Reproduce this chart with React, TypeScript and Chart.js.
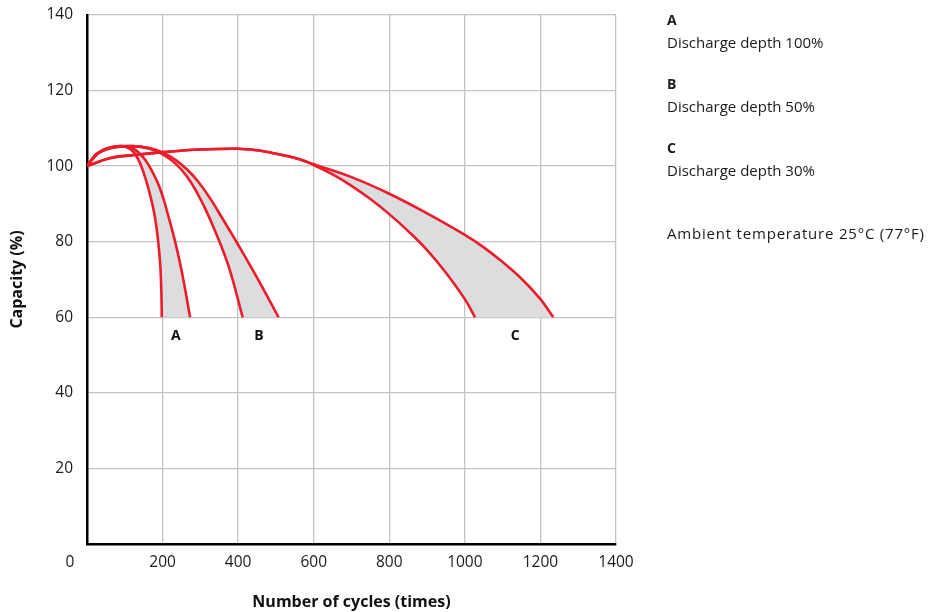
import React, { useEffect, useRef } from 'react';
import { Chart, registerables } from 'chart.js';

Chart.register(...registerables);

// ---- Data (cycles, capacity %) ----
const aLeftCycles = [0, 25, 55, 90, 115, 135, 153, 170, 180, 188, 194, 197, 198];
const aLeftCapacity = [100, 103.2, 104.7, 105.3, 104.5, 101.9, 97.3, 91.2, 86.4, 80.5, 73.6, 66, 60];

const aRightCycles = [0, 25, 55, 95, 125, 153, 184, 201, 216, 232, 250, 273];
const aRightCapacity = [100, 103.2, 104.8, 105.3, 104.5, 101.8, 96.3, 91.8, 86.5, 80.5, 72.5, 60];

const bLeftCycles = [0, 30, 70, 120, 165, 200, 235, 265, 290, 315, 345, 377, 412];
const bLeftCapacity = [100, 103.4, 104.9, 105.3, 104.6, 103.2, 100.6, 97.2, 93.2, 88.3, 81.4, 72.8, 60];

const bRightCycles = [0, 30, 70, 120, 165, 200, 235, 265, 295, 325, 360, 400, 450, 507];
const bRightCapacity = [100, 103.4, 105, 105.3, 104.8, 103.6, 101.6, 99.1, 95.8, 91.6, 85.9, 79.2, 70.5, 60];

const cLeftCycles = [0, 60, 130, 200, 300, 400, 450, 490, 560, 600, 650, 700, 750, 800, 850, 900, 950, 1000, 1027];
const cLeftCapacity = [100, 102.1, 103, 103.7, 104.4, 104.6, 104.2, 103.5, 101.9, 100.3, 97.8, 94.8, 91.3, 87.3, 82.8, 77.8, 71.8, 64.8, 60];

const cRightCycles = [0, 60, 130, 200, 300, 400, 450, 490, 560, 600, 700, 800, 900, 1000, 1050, 1100, 1150, 1200, 1234];
const cRightCapacity = [100, 102.1, 103, 103.7, 104.4, 104.6, 104.2, 103.5, 101.9, 100.5, 97.1, 92.7, 87.5, 81.8, 78.5, 74.6, 70.2, 64.8, 60];

const bandNames = ['A', 'B', 'C'];
const bandDescriptions = ['Discharge depth 100%', 'Discharge depth 50%', 'Discharge depth 30%'];
const bandLabelCycles = [235, 455, 1133];
const bandLabelCapacity = 55;
const ambientNote = 'Ambient temperature 25°C (77°F)';

const xTitle = 'Number of cycles (times)';
const yTitle = 'Capacity (%)';

const RED = '#ec1c2a';
const BAND = '#dcdddf';
const FONT = "'Open Sans', 'Noto Sans', sans-serif";

type P = { x: number; y: number };
const pts = (xs: number[], ys: number[]): P[] => xs.map((x, i) => ({ x, y: ys[i] }));
const band = (lx: number[], ly: number[], rx: number[], ry: number[]): P[] => {
  const left = pts(lx, ly);
  const right = pts(rx, ry).reverse();
  return [...left, { ...left[left.length - 1] }, { ...right[0] }, ...right];
};

const extraText = {
  id: 'extraText',
  afterDraw(chart: any) {
    const { ctx, scales, chartArea } = chart;
    const x = scales.x;
    const y = scales.y;
    ctx.save();
    ctx.fillStyle = '#111';
    ctx.font = `bold 14px ${FONT}`;
    ctx.textAlign = 'center';
    ctx.textBaseline = 'middle';
    bandNames.forEach((n, i) => {
      ctx.fillText(n, x.getPixelForValue(bandLabelCycles[i]), y.getPixelForValue(bandLabelCapacity));
    });
    ctx.font = `15.5px ${FONT}`;
    ctx.fillStyle = '#1a1a1a';
    ctx.fillText('0', chartArea.left - 17, chartArea.bottom + 19);
    ctx.restore();
  },
};

export default function App() {
  const ref = useRef<HTMLCanvasElement | null>(null);

  useEffect(() => {
    if (!ref.current) return;
    const lineDs = (data: P[]) => ({
      data,
      borderColor: RED,
      borderWidth: 2.6,
      fill: false,
      tension: 0.4,
      pointRadius: 0,
      order: 1,
    });
    const bandDs = (data: P[]) => ({
      data,
      borderColor: 'rgba(0,0,0,0)',
      borderWidth: 0,
      backgroundColor: BAND,
      fill: 'shape',
      tension: 0.4,
      pointRadius: 0,
      order: 2,
    });
    const chart = new Chart(ref.current, {
      type: 'line',
      data: {
        datasets: [
          bandDs(band(aLeftCycles, aLeftCapacity, aRightCycles, aRightCapacity)),
          bandDs(band(bLeftCycles, bLeftCapacity, bRightCycles, bRightCapacity)),
          bandDs(band(cLeftCycles, cLeftCapacity, cRightCycles, cRightCapacity)),
          lineDs(pts(aLeftCycles, aLeftCapacity)),
          lineDs(pts(aRightCycles, aRightCapacity)),
          lineDs(pts(bLeftCycles, bLeftCapacity)),
          lineDs(pts(bRightCycles, bRightCapacity)),
          lineDs(pts(cLeftCycles, cLeftCapacity)),
          lineDs(pts(cRightCycles, cRightCapacity)),
        ] as any,
      },
      options: {
        animation: false,
        responsive: false,
        events: [],
        layout: { padding: { top: 15, right: 314, bottom: 0, left: 0 } },
        plugins: { legend: { display: false }, tooltip: { enabled: false } },
        scales: {
          x: {
            type: 'linear',
            min: 0,
            max: 1400,
            ticks: {
              stepSize: 200,
              padding: 9.7,
              color: '#1a1a1a',
              font: { family: FONT, size: 15.5 },
              maxRotation: 0,
              callback: (v: any) => (v === 0 ? '' : String(v)),
            },
            grid: { color: '#c4c4c4', lineWidth: 1.3, drawTicks: false },
            border: { color: '#000', width: 2.5 },
            title: {
              display: true,
              text: xTitle,
              color: '#111',
              font: { family: FONT, size: 16, weight: 'bold' },
              padding: { top: 0, bottom: 0 },
            },
            afterFit: (s: any) => {
              s.height = 68;
              s.paddingLeft = 0;
              s.paddingRight = 0;
            },
          },
          y: {
            type: 'linear',
            min: 0,
            max: 140,
            ticks: {
              stepSize: 20,
              padding: 14,
              color: '#1a1a1a',
              font: { family: FONT, size: 15.5 },
              callback: (v: any) => (v === 0 ? '' : String(v)),
            },
            grid: { color: '#c4c4c4', lineWidth: 1.3, drawTicks: false },
            border: { color: '#000', width: 2.5 },
            title: {
              display: true,
              text: yTitle,
              color: '#111',
              font: { family: FONT, size: 16, weight: 'bold' },
              padding: { top: 7.4, bottom: 0 },
            },
            afterFit: (s: any) => {
              s.width = 87;
              s.paddingTop = 0;
              s.paddingBottom = 0;
            },
          },
        },
      } as any,
      plugins: [extraText],
    });
    return () => chart.destroy();
  }, []);

  const textStyle: React.CSSProperties = {
    position: 'absolute',
    left: 667,
    fontFamily: FONT,
    fontSize: 15,
    lineHeight: '20px',
    color: '#1a1a1a',
    whiteSpace: 'nowrap',
  };
  const tops = [10, 74, 138];

  return (
    <div style={{ position: 'absolute', left: 0, top: 0, width: 930, height: 612, background: '#fff' }}>
      <canvas ref={ref} width={930} height={612} style={{ position: 'absolute', left: 0, top: 0 }} />
      {bandNames.map((n, i) => (
        <React.Fragment key={n}>
          <div style={{ ...textStyle, top: tops[i], fontWeight: 'bold', fontSize: 14 }}>{n}</div>
          <div style={{ ...textStyle, top: tops[i] + 22 }}>{bandDescriptions[i]}</div>
        </React.Fragment>
      ))}
      <div style={{ ...textStyle, top: 223, letterSpacing: '0.8px' }}>{ambientNote}</div>
    </div>
  );
}
